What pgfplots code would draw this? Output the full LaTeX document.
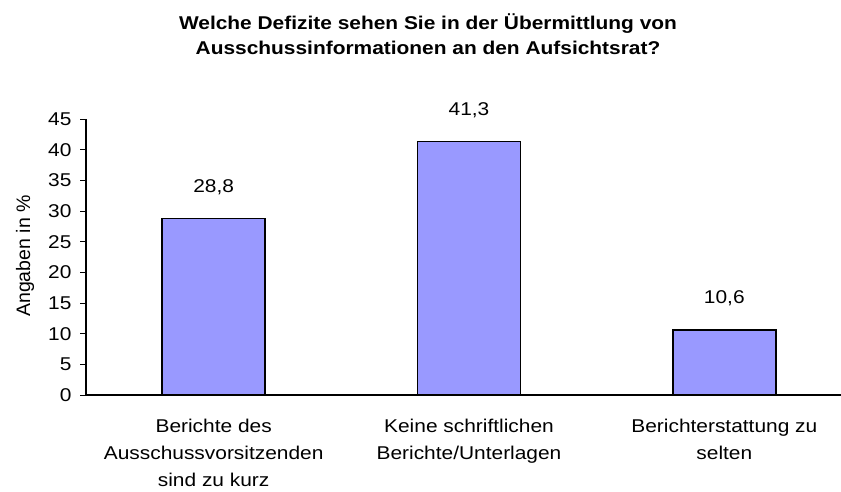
\documentclass[border=0pt]{standalone}
\usepackage{fontspec}
\setmainfont{Liberation Sans}[FakeStretch=1.13]
\newfontfamily\plainfont{Liberation Sans}
\usepackage{pgfplots}
\pgfplotsset{compat=1.18}
\definecolor{barfill}{HTML}{9999FF}
\begin{document}
\begin{tikzpicture}[x=1pt,y=1pt]
\useasboundingbox (0,0) rectangle (841,491);
\begin{axis}[
  at={(86pt,96pt)}, anchor=south west,
  scale only axis, width=766pt, height=276pt,
  xmin=-0.5, xmax=2.5, ymin=0, ymax=45,
  axis lines*=left,
  axis line style={line width=1.2pt},
  ytick={0,5,...,45},
  xtick={0,1,2},
  xticklabels={{Berichte des\\Ausschussvorsitzenden\\sind zu kurz},{Keine schriftlichen\\Berichte/Unterlagen},{Berichterstattung zu\\selten}},
  x tick style={draw=none},
  extra x ticks={-0.5,0.5,1.5},
  extra x tick labels={},
  extra x tick style={major tick length=6pt, tick align=outside, tick style={draw=black, line width=0.8pt}},
  y tick style={draw=black, line width=0.8pt},
  tick align=outside, major tick length=6pt,
  /pgf/number format/assume math mode=true,
  ticklabel style={font=\fontsize{18.5}{27}\selectfont},
  xticklabel style={align=center, yshift=-15pt},
  yticklabel style={xshift=-5pt},
  ybar, bar width=103pt,
  nodes near coords,
  nodes near coords style={font=\fontsize{18.5}{27}\selectfont, anchor=base, inner sep=0pt, yshift=26pt,
    /pgf/number format/.cd, use comma, fixed, fixed zerofill, precision=1, assume math mode=true},
  clip=false,
]
\addplot[fill=barfill, draw=black, line width=1.4pt] coordinates {(0,28.8) (1,41.3) (2,10.6)};
\end{axis}
\node[rotate=90, font=\plainfont\fontsize{19.5}{22}\selectfont] at (25,235) {Angaben in \%};
\node[anchor=base, inner sep=0pt, font=\bfseries\fontsize{18.5}{24}\selectfont] at (428,461) {Welche Defizite sehen Sie in der Übermittlung von};
\node[anchor=base, inner sep=0pt, font=\bfseries\fontsize{18.5}{24}\selectfont] at (428,436) {Ausschussinformationen an den Aufsichtsrat?};
\end{tikzpicture}
\end{document}
